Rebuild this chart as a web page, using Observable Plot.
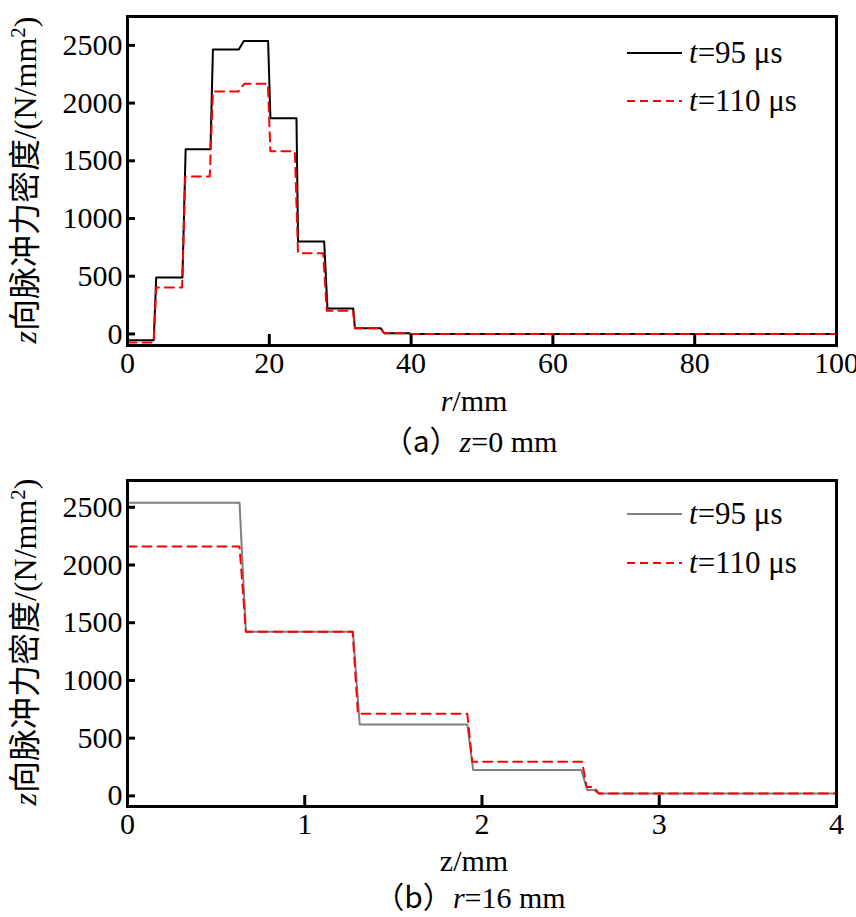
<!DOCTYPE html>
<html>
<head>
<meta charset="utf-8">
<script src="https://cdn.jsdelivr.net/npm/d3@7"></script>
<script src="https://cdn.jsdelivr.net/npm/@observablehq/plot@0.6"></script>
<style>
  html, body { margin: 0; padding: 0; background: #fff; }
  #chart { width: 856px; }
  svg { display: block; }
</style>
</head>
<body>
<div id="chart"></div>
<script>
// ---- data: (a) z = 0 mm ----
const r95  = [0, 3.7, 4.05, 7.75, 8.2, 11.7, 12.05, 15.7, 16.4, 19.83, 20.16, 23.83, 24.06, 27.74, 28.2, 31.84, 32.07, 35.7, 36.2, 39.7, 40, 100];
const f95  = [-55, -55, 490, 490, 1600, 1600, 2465, 2465, 2537, 2537, 1869, 1869, 801, 801, 220, 220, 50, 50, 6, 6, 0, 0];
const r110 = [0, 3.7, 4.05, 7.7, 8.15, 11.6, 12.05, 15.6, 16.5, 19.8, 20.15, 23.6, 24.05, 27.6, 28.1, 31.8, 32.1, 35.7, 36.2, 39.7, 40, 100];
const f110 = [-75, -75, 402, 402, 1365, 1365, 2100, 2100, 2167, 2167, 1582, 1582, 700, 700, 200, 200, 50, 50, 6, 6, 0, 0];
// ---- data: (b) r = 16 mm ----
const z95  = [0, 0.632, 0.668, 1.272, 1.31, 1.917, 1.95, 2.56, 2.594, 2.63, 2.66, 4];
const g95  = [2540, 2540, 1422, 1422, 618, 618, 225, 225, 52, 52, 20, 20];
const z110 = [0, 0.632, 0.668, 1.27, 1.30, 1.917, 1.945, 2.565, 2.59, 2.63, 2.66, 4];
const g110 = [2160, 2160, 1422, 1422, 711, 711, 295, 295, 78, 78, 20, 20];
// ---- ticks / labels ----
const xTicksA = [0, 20, 40, 60, 80, 100];
const xTicksB = [0, 1, 2, 3, 4];
const yTicks = [0, 500, 1000, 1500, 2000, 2500];
const legend95 = "=95 μs";
const legend110 = "=110 μs";

const serif = "'Liberation Serif', 'Times New Roman', serif";
const cjk = "'Noto Sans CJK SC', sans-serif";
const FS = 30;

const zip = (xs, ys) => xs.map((x, i) => ({x, y: ys[i]}));

function panel({xDomain, yDomain, xTicks, s95, s110, c95, marginTop, marginBottom, height}) {
  const svg = Plot.plot({
    width: 856, height,
    marginLeft: 127, marginRight: 20, marginTop, marginBottom,
    style: {fontFamily: serif, fontSize: FS + "px", background: "white", color: "black", overflow: "visible"},
    x: {domain: xDomain, ticks: xTicks, label: null, tickFormat: "d"},
    y: {domain: yDomain, ticks: yTicks, label: null, tickFormat: "d"},
    marks: [
      Plot.line(s95, {x: "x", y: "y", stroke: c95, strokeWidth: 2}),
      Plot.line(s110, {x: "x", y: "y", stroke: "#ff0000", strokeWidth: 2, strokeDasharray: "9,6"}),
      Plot.frame({stroke: "black", strokeWidth: 3}),
      Plot.axisX(xTicks, {anchor: "bottom", tickSize: 11, dy: -11, text: null, strokeWidth: 3}),
      Plot.axisY(yTicks, {anchor: "left", tickSize: 8, dx: 8, text: null, strokeWidth: 3}),
      Plot.axisX(xTicks, {anchor: "bottom", tickSize: 0, tickPadding: 6, fontSize: FS, label: null, tickFormat: "d"}),
      Plot.axisY(yTicks, {anchor: "left", tickSize: 0, tickPadding: 5, fontSize: FS, label: null, tickFormat: "d"})
    ]
  });
  return svg;
}

function addText(svg, x, y, parts, opts = {}) {
  const t = d3.select(svg).append("text")
    .attr("x", x).attr("y", y)
    .attr("text-anchor", opts.anchor || "middle")
    .attr("font-size", opts.size || FS)
    .attr("font-family", serif)
    .attr("fill", "black");
  if (opts.transform) t.attr("transform", opts.transform);
  for (const p of parts) {
    const s = t.append("tspan").text(p.t);
    if (p.i) s.attr("font-style", "italic");
    if (p.f) s.attr("font-family", p.f);
    if (p.sup) s.attr("baseline-shift", "super").attr("font-size", (opts.size || FS) * 0.65);
  }
  return t;
}

function addLegend(svg, y1, y2, c95) {
  const g = d3.select(svg);
  g.append("line").attr("x1", 627).attr("x2", 682).attr("y1", y1).attr("y2", y1)
    .attr("stroke", c95).attr("stroke-width", 2);
  g.append("line").attr("x1", 627).attr("x2", 682).attr("y1", y2).attr("y2", y2)
    .attr("stroke", "#ff0000").attr("stroke-width", 2).attr("stroke-dasharray", "8,5");
  addText(svg, 689, y1 + 10, [{t: "t", i: true}, {t: legend95}], {anchor: "start", size: 31});
  addText(svg, 689, y2 + 10, [{t: "t", i: true}, {t: legend110}], {anchor: "start", size: 31});
}

function addYLabel(svg, cy) {
  addText(svg, 0, 0, [
    {t: "z", i: true},
    {t: "向脉冲力密度", f: cjk},
    {t: "/(N/mm"},
    {t: "2", sup: true},
    {t: ")"}
  ], {transform: `translate(36,${cy}) rotate(-90)`, size: 32});
}

const root = document.getElementById("chart");

// Panel (a)
const svgA = panel({
  xDomain: [0, 100], yDomain: [-100, 2750], xTicks: xTicksA,
  s95: zip(r95, f95), s110: zip(r110, f110), c95: "black",
  marginTop: 16, marginBottom: 115, height: 460
});
addLegend(svgA, 53, 101, "black");
addYLabel(svgA, 180);
addText(svgA, 474, 411, [{t: "r", i: true}, {t: "/mm"}]);
addText(svgA, 470, 452, [{t: "（a）", f: cjk}, {t: "z", i: true}, {t: "=0 mm"}]);
root.appendChild(svgA);

// Panel (b)
const svgB = panel({
  xDomain: [0, 4], yDomain: [-92, 2732], xTicks: xTicksB,
  s95: zip(z95, g95), s110: zip(z110, g110), c95: "#808080",
  marginTop: 20, marginBottom: 111, height: 457
});
addLegend(svgB, 54, 103, "#808080");
addYLabel(svgB, 182);
addText(svgB, 474, 411, [{t: "z/mm"}]);
addText(svgB, 470, 448, [{t: "（b）", f: cjk}, {t: "r", i: true}, {t: "=16 mm"}]);
root.appendChild(svgB);
</script>
</body>
</html>
